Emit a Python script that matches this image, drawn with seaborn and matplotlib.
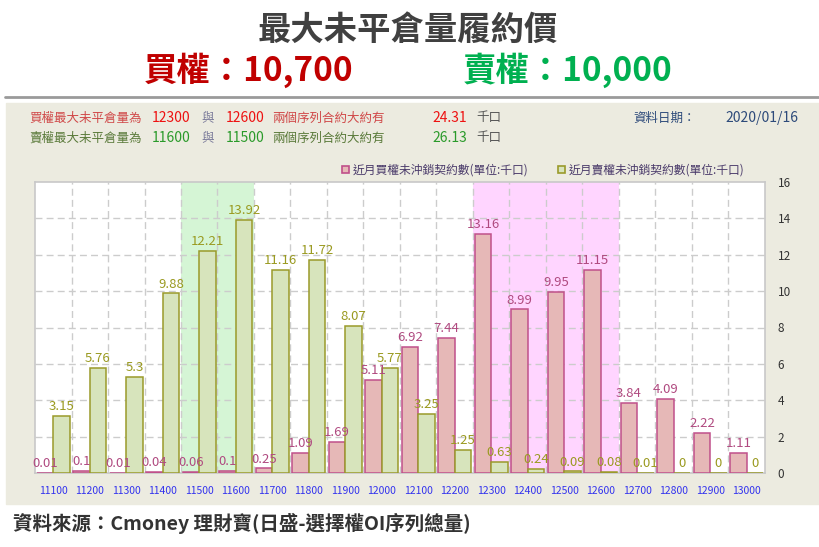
import pandas as pd
import matplotlib
matplotlib.use("Agg")
import matplotlib.pyplot as plt
import seaborn as sns
from matplotlib.patches import Rectangle

# strike prices and open interest (unit: thousand contracts)
strikes = ["11100", "11200", "11300", "11400", "11500", "11600", "11700", "11800", "11900", "12000",
           "12100", "12200", "12300", "12400", "12500", "12600", "12700", "12800", "12900", "13000"]
call_oi = [0.01, 0.1, 0.01, 0.04, 0.06, 0.1, 0.25, 1.09, 1.69, 5.11,
           6.92, 7.44, 13.16, 8.99, 9.95, 11.15, 3.84, 4.09, 2.22, 1.11]
put_oi = [3.15, 5.76, 5.3, 9.88, 12.21, 13.92, 11.16, 11.72, 8.07, 5.77,
          3.25, 1.25, 0.63, 0.24, 0.09, 0.08, 0.01, 0, 0, 0]
y_ticks = [0, 2, 4, 6, 8, 10, 12, 14, 16]
put_zone = ["11500", "11600"]
call_zone = ["12300", "12400", "12500", "12600"]

CALL_FILL, CALL_EDGE, CALL_TXT = "#e6b8b7", "#c0508a", "#b04a80"
PUT_FILL, PUT_EDGE, PUT_TXT = "#d7e4bc", "#9a9a2a", "#9a9a20"

sns.set_style("white")
plt.rcParams["font.family"] = ["Noto Sans CJK TC", "DejaVu Sans"]

df = pd.DataFrame({
    "strike": strikes * 2,
    "oi": call_oi + put_oi,
    "type": ["call"] * len(strikes) + ["put"] * len(strikes),
})

W, H = 820, 547
fig = plt.figure(figsize=(W / 100, H / 100), dpi=100)


def fx(px):
    return px / W


def fy(py):
    return 1 - py / H


# beige panel + separator line
fig.patches.append(Rectangle((fx(6), fy(504)), fx(814), (504 - 103) / H,
                             transform=fig.transFigure, color="#ecebe0", zorder=-1))
fig.add_artist(plt.Line2D([fx(5), 1], [fy(97), fy(97)], color="#9a9a9a", lw=2,
                          transform=fig.transFigure))

# headline
fig.text(fx(408), fy(30), "最大未平倉量履約價", ha="center", va="center",
         fontsize=24, fontweight="bold", color="#404040")
fig.text(fx(249), fy(70), "買權：10,700", ha="center", va="center",
         fontsize=24, fontweight="bold", color="#c00000")
fig.text(fx(568), fy(70), "賣權：10,000", ha="center", va="center",
         fontsize=24, fontweight="bold", color="#00b050")

# info rows
rows = [
    (118, [(29, "買權最大未平倉量為", "#d04848", 9), (152, "12300", "#ee1111", 10),
           (201, "與", "#7a7a9a", 9), (226, "12600", "#ee1111", 10),
           (272, "兩個序列合約大約有", "#d04848", 9), (432, "24.31", "#ee1111", 10),
           (476, "千口", "#555555", 9)]),
    (138, [(29, "賣權最大未平倉量為", "#5a7a3a", 9), (152, "11600", "#2a9a2a", 10),
           (201, "與", "#7a7a9a", 9), (226, "11500", "#2a9a2a", 10),
           (272, "兩個序列合約大約有", "#5a7a3a", 9), (432, "26.13", "#2a9a2a", 10),
           (476, "千口", "#555555", 9)]),
]
for y, items in rows:
    for x, txt, col, fs in items:
        fig.text(fx(x), fy(y), txt, ha="left", va="center", fontsize=fs, color=col)
fig.text(fx(633), fy(118), "資料日期：", ha="left", va="center", fontsize=9, color="#2d4a7a")
fig.text(fx(725), fy(118), "2020/01/16", ha="left", va="center", fontsize=10, color="#2d4a7a")

# chart
ax = fig.add_axes([fx(35), fy(473), fx(765 - 35), (473 - 182) / H])
ax.set_zorder(2)
ax.set_facecolor("white")
sns.barplot(data=df, x="strike", y="oi", hue="type", hue_order=["call", "put"],
            palette={"call": CALL_FILL, "put": PUT_FILL}, width=0.9, saturation=1,
            legend=False, ax=ax)

ax.set_xlim(-0.5, len(strikes) - 0.5)
ax.set_ylim(0, 16)

pz = [strikes.index(s) for s in put_zone]
cz = [strikes.index(s) for s in call_zone]
ax.axvspan(min(pz) - 0.5, max(pz) + 0.5, color="#d5f5d5", zorder=0.5, lw=0)
ax.axvspan(min(cz) - 0.5, max(cz) + 0.5, color="#ffd5ff", zorder=0.5, lw=0)
for i in range(len(strikes) - 1):
    ax.axvline(i + 0.5, color="#cccccc", lw=1, ls=(0, (5, 3)), zorder=1)
for t in y_ticks[1:-1]:
    ax.axhline(t, color="#cccccc", lw=1, ls=(0, (5, 3)), zorder=1)

for cont, vals, edge, tc in zip(ax.containers, [call_oi, put_oi],
                                [CALL_EDGE, PUT_EDGE], [CALL_TXT, PUT_TXT]):
    for bar, v in zip(cont, vals):
        bar.set_edgecolor(edge)
        bar.set_linewidth(1.1)
        bar.set_zorder(3)
        ax.annotate(f"{v:g}", (bar.get_x() + bar.get_width() / 2, bar.get_height()),
                    xytext=(0, 2), textcoords="offset points", ha="center", va="bottom",
                    fontsize=9.5, color=tc, zorder=4)

ax.yaxis.tick_right()
ax.set_yticks(y_ticks)
ax.tick_params(axis="y", length=0, pad=9, labelsize=8.5, labelcolor="#333333")
ax.tick_params(axis="x", length=0, pad=9, labelsize=7.5, labelcolor="#3333ee")
ax.set_xlabel("")
ax.set_ylabel("")
for sp in ax.spines.values():
    sp.set_color("#c8c8c8")
    sp.set_linewidth(1.2)

# legend
handles = [Rectangle((0, 0), 1, 1, facecolor=CALL_FILL, edgecolor=CALL_EDGE, lw=1.2),
           Rectangle((0, 0), 1, 1, facecolor=PUT_FILL, edgecolor=PUT_EDGE, lw=1.2)]
leg = fig.legend(handles, ["近月買權未沖銷契約數(單位:千口)", "近月賣權未沖銷契約數(單位:千口)"],
                 loc="center", bbox_to_anchor=(fx(543), fy(170)), ncol=2, frameon=False,
                 fontsize=8.5, handlelength=0.6, handleheight=0.6, handletextpad=0.3,
                 columnspacing=2.5)
for t in leg.get_texts():
    t.set_color("#4a3a6a")

# footer
fig.text(fx(13), fy(523), "資料來源：Cmoney 理財寶(日盛-選擇權OI序列總量)", ha="left", va="center",
         fontsize=14, fontweight="bold", color="#333333")

fig.savefig("out.png", dpi=100, facecolor="white")
